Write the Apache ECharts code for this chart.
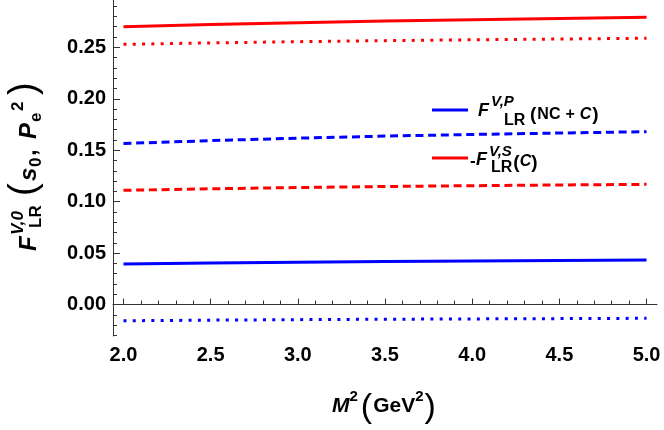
<!DOCTYPE html>
<html><head><meta charset="utf-8">
<script src="https://cdn.jsdelivr.net/npm/echarts@6/dist/echarts.min.js"></script>
<style>html,body{margin:0;padding:0;background:#fff}#c{width:664px;height:430px}</style>
</head><body><div id="c"></div>
<script>
// ---- data ----
const xValues   = [2.0, 2.5, 3.0, 3.5, 4.0, 4.5, 5.0];
const redSolid  = [0.2700, 0.2722, 0.2740, 0.2755, 0.2768, 0.2780, 0.2792];
const redDotted = [0.2529, 0.2543, 0.2555, 0.2565, 0.2573, 0.2581, 0.2588];
const blueDashed= [0.1565, 0.1593, 0.1617, 0.1637, 0.1653, 0.1667, 0.1680];
const redDashed = [0.1110, 0.1125, 0.1137, 0.1147, 0.1155, 0.1162, 0.1168];
const blueSolid = [0.0394, 0.0404, 0.0412, 0.0419, 0.0424, 0.0429, 0.0433];
const blueDotted= [-0.0158, -0.0152, -0.0147, -0.0143, -0.0140, -0.0137, -0.0134];
const xTickLabels = [2.0, 2.5, 3.0, 3.5, 4.0, 4.5, 5.0];
const yTickLabels = [0.00, 0.05, 0.10, 0.15, 0.20, 0.25];

const xMinor = []; for (let i = 20; i <= 50; i++) if (i % 5) xMinor.push(i / 10);
const yMinor = []; for (let i = -3; i <= 29; i++) if (i % 5) yMinor.push(i / 100);

const pair = ys => xValues.map((x, i) => [x, ys[i]]);
const FONT = '"Liberation Sans", Arial, sans-serif';
const AX = '#333';

// ---- rich text helper (sub/superscripts) ----
const ctx = document.createElement('canvas').getContext('2d');
function buildText(pieces, x0, y0, rot) {
  let cx = 0; const ch = [];
  for (const p of pieces) {
    const font = (p.it ? 'italic ' : '') + (p.wt || 'bold') + ' ' + p.s + 'px ' + FONT;
    ctx.font = font;
    const wd = ctx.measureText(p.t).width;
    const sx = (p.x !== undefined) ? p.x : cx + (p.gap || 0);
    ch.push({type: 'text', x: sx, y: (p.dy || 0) - 0.31 * p.s, silent: true,
      style: {text: p.t, font: font, fill: '#000', align: 'left', verticalAlign: 'middle'}});
    cx = sx + wd;
  }
  return {type: 'group', x: x0, y: y0, rotation: rot || 0, children: ch};
}

const yTitle = buildText([
  {t: 'F', s: 24, it: true, x: 0},
  {t: 'V,0', s: 17, it: true, x: 16, dy: -13},
  {t: 'LR', s: 17, x: 23, dy: 5},
  {t: '(', s: 38, wt: 'normal', x: 55, dy: -1},
  {t: 's', s: 24, it: true, x: 70},
  {t: '0', s: 17, x: 84, dy: 5},
  {t: ',', s: 24, x: 95},
  {t: 'P', s: 24, it: true, x: 112},
  {t: 'e', s: 17, x: 129, dy: 5},
  {t: '2', s: 17, x: 140, dy: -13},
  {t: ')', s: 38, wt: 'normal', x: 156, dy: -1}
], 37, 251, Math.PI / 2);

const xTitle = buildText([
  {t: 'M', s: 21, it: true, x: 0},
  {t: '2', s: 15, gap: 0, dy: -11},
  {t: '(', s: 34, wt: 'normal', gap: 3, dy: 5},
  {t: 'GeV', s: 21, gap: 1},
  {t: '2', s: 15, gap: 0, dy: -11},
  {t: ')', s: 34, wt: 'normal', gap: 1, dy: 5}
], 332, 413, 0);

const leg1 = buildText([
  {t: 'F', s: 18, it: true, x: 0},
  {t: 'V,P', s: 15, it: true, x: 13, dy: -10},
  {t: 'LR', s: 16, x: 26, dy: 9},
  {t: '(', s: 19, x: 52, dy: 4},
  {t: 'NC', s: 16, gap: 1, dy: 3},
  {t: '+', s: 16, gap: 5, dy: 3},
  {t: 'C', s: 16, it: true, gap: 5, dy: 3},
  {t: ')', s: 19, gap: 1, dy: 4}
], 478, 117, 0);

const leg2 = buildText([
  {t: '-', s: 17, x: 0, dy: 1},
  {t: 'F', s: 18, it: true, x: 6},
  {t: 'V,S', s: 15, it: true, x: 19, dy: -9},
  {t: 'LR', s: 16, x: 21, dy: 7},
  {t: '(', s: 19, gap: 1, dy: 3},
  {t: 'C', s: 16, it: true, dy: 1},
  {t: ')', s: 19, dy: 3}
], 470, 166, 0);

function line(name, data, color, type) {
  return {name, type: 'line', data: pair(data), symbol: 'none', silent: true,
    xAxisIndex: 0, yAxisIndex: 0,
    lineStyle: {color, width: 3, type, cap: 'butt'}, z: 3};
}

const chart = echarts.init(document.getElementById('c'), null, {renderer: 'canvas'});
chart.setOption({
  animation: false,
  backgroundColor: '#fff',
  grid: {left: 113, right: 7, top: 0, bottom: 94, containLabel: false},
  xAxis: [
    {type: 'value', min: 1.94, max: 5.06,
     axisLine: {show: true, lineStyle: {color: AX, width: 1}},
     axisTick: {show: true, inside: true, length: 6, customValues: xTickLabels, lineStyle: {color: AX}},
     axisLabel: {customValues: xTickLabels, formatter: v => v.toFixed(1), margin: 9,
                 fontFamily: FONT, fontWeight: 'bold', fontSize: 20, color: '#000'},
     splitLine: {show: false}},
    {type: 'value', min: 1.94, max: 5.06, position: 'bottom',
     axisLine: {show: false},
     axisTick: {show: true, inside: true, length: 4, customValues: xMinor, lineStyle: {color: AX}},
     axisLabel: {show: false}, splitLine: {show: false}}
  ],
  yAxis: [
    {type: 'value', min: -0.0306, max: 0.296,
     axisLine: {show: true, lineStyle: {color: AX, width: 1}},
     axisTick: {show: true, inside: true, length: 7, customValues: yTickLabels, lineStyle: {color: AX}},
     axisLabel: {customValues: yTickLabels, formatter: v => v.toFixed(2), margin: 7,
                 fontFamily: FONT, fontWeight: 'bold', fontSize: 20, color: '#000'},
     splitLine: {show: false}},
    {type: 'value', min: -0.0306, max: 0.296, position: 'left',
     axisLine: {show: false},
     axisTick: {show: true, inside: true, length: 4, customValues: yMinor, lineStyle: {color: AX}},
     axisLabel: {show: false}, splitLine: {show: false}}
  ],
  series: [
    line('redSolid', redSolid, '#ff0000', 'solid'),
    line('redDotted', redDotted, '#ff0000', [3, 6.3]),
    line('blueDashed', blueDashed, '#0000ff', [8, 4.7]),
    line('redDashed', redDashed, '#ff0000', [8, 4.7]),
    line('blueSolid', blueSolid, '#0000ff', 'solid'),
    line('blueDotted', blueDotted, '#0000ff', [3, 6.3])
  ],
  graphic: [
    {type: 'line', shape: {x1: 432, y1: 110, x2: 468, y2: 110}, style: {stroke: '#0000ff', lineWidth: 3}, silent: true},
    {type: 'line', shape: {x1: 432, y1: 158, x2: 468, y2: 158}, style: {stroke: '#ff0000', lineWidth: 3}, silent: true},
    leg1, leg2, yTitle, xTitle
  ]
});
</script>
</body></html>
